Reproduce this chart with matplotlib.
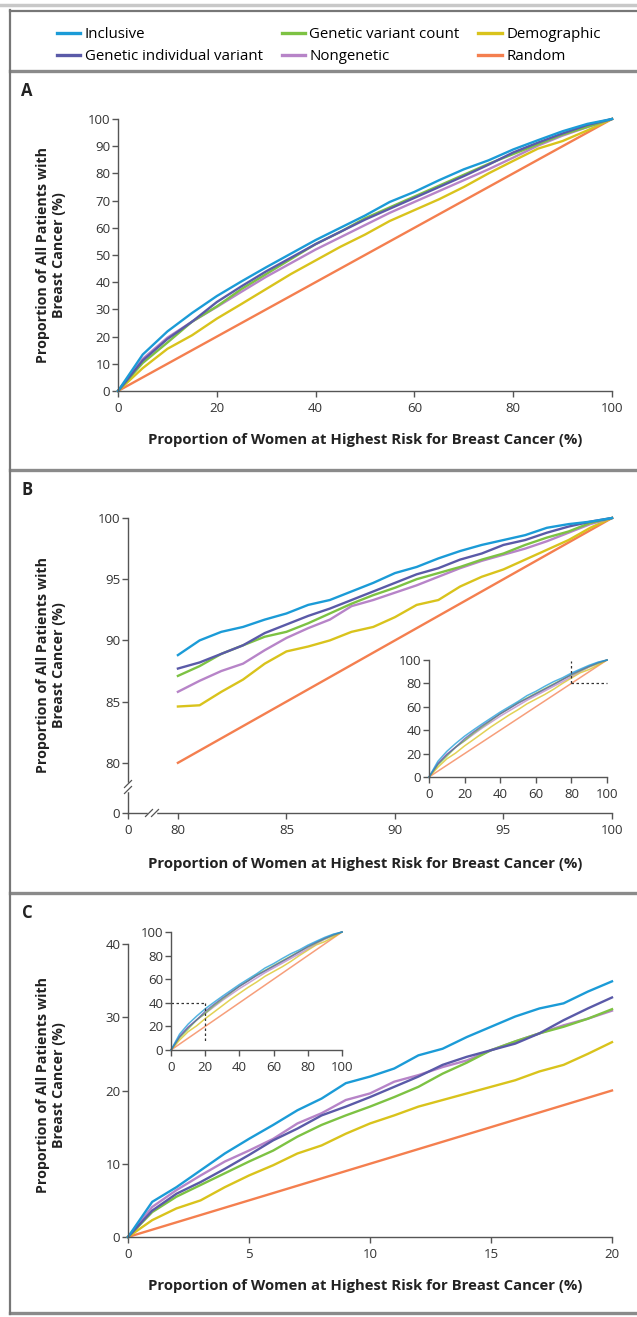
import matplotlib
matplotlib.use('Agg')
import matplotlib.pyplot as plt
from matplotlib.lines import Line2D

plt.rcParams['font.family'] = ['Open Sans', 'DejaVu Sans']

# models, in legend order (column-wise)
names = ['Inclusive', 'Genetic individual variant', 'Genetic variant count',
         'Nongenetic', 'Demographic', 'Random']
colors = ['#1b9bd7', '#5a5aa8', '#7dc243', '#b784c8', '#d9c31c', '#f47f4f']

# full range (panel A and insets)
full_x = [0, 5, 10, 15, 20, 25, 30, 35, 40, 45, 50, 55, 60, 65, 70, 75, 80, 85, 90, 95, 100]
full_inclusive = [0, 13.4, 21.9, 28.7, 34.9, 40.3, 45.5, 50.5, 55.5, 60.0, 64.5, 69.5, 73.2, 77.5, 81.5, 84.8, 88.8, 92.2, 95.5, 98.2, 100]
full_indiv = [0, 11.2, 19.1, 25.5, 32.7, 38.5, 44.0, 49.0, 54.0, 58.5, 63.0, 67.0, 71.0, 75.0, 79.0, 83.2, 87.7, 91.3, 94.7, 97.8, 100]
full_count = [0, 10.3, 17.8, 25.5, 31.1, 37.5, 43.0, 48.5, 54.0, 58.5, 63.5, 67.5, 71.5, 75.5, 79.5, 83.5, 87.1, 90.7, 94.3, 97.1, 100]
full_nongen = [0, 11.8, 19.6, 25.5, 30.9, 36.5, 42.0, 47.0, 52.0, 56.5, 61.0, 65.5, 69.5, 73.5, 77.5, 81.5, 85.8, 90.2, 93.9, 97.0, 100]
full_demo = [0, 8.4, 15.5, 20.5, 26.6, 32.0, 37.5, 43.0, 48.0, 53.0, 57.5, 62.5, 66.5, 70.5, 75.0, 80.0, 84.6, 89.1, 91.9, 95.8, 100]
full_random = [0, 5, 10, 15, 20, 25, 30, 35, 40, 45, 50, 55, 60, 65, 70, 75, 80, 85, 90, 95, 100]

# top 80-100 (panel B)
b_x = [80, 81, 82, 83, 84, 85, 86, 87, 88, 89, 90, 91, 92, 93, 94, 95, 96, 97, 98, 99, 100]
b_inclusive = [88.8, 90.0, 90.7, 91.1, 91.7, 92.2, 92.9, 93.3, 94.0, 94.7, 95.5, 96.0, 96.7, 97.3, 97.8, 98.2, 98.6, 99.2, 99.5, 99.7, 100]
b_indiv = [87.7, 88.2, 88.9, 89.6, 90.6, 91.3, 92.0, 92.6, 93.3, 94.0, 94.7, 95.4, 95.9, 96.6, 97.1, 97.8, 98.2, 98.8, 99.3, 99.7, 100]
b_count = [87.1, 87.9, 88.9, 89.6, 90.3, 90.7, 91.4, 92.2, 93.0, 93.7, 94.3, 95.0, 95.5, 96.0, 96.6, 97.1, 97.8, 98.4, 98.9, 99.6, 100]
b_nongen = [85.8, 86.7, 87.5, 88.1, 89.2, 90.2, 91.0, 91.7, 92.8, 93.3, 93.9, 94.5, 95.2, 95.9, 96.5, 97.0, 97.5, 98.1, 98.8, 99.5, 100]
b_demo = [84.6, 84.7, 85.8, 86.8, 88.1, 89.1, 89.5, 90.0, 90.7, 91.1, 91.9, 92.9, 93.3, 94.4, 95.2, 95.8, 96.6, 97.4, 98.2, 99.2, 100]
b_random = [80, 81, 82, 83, 84, 85, 86, 87, 88, 89, 90, 91, 92, 93, 94, 95, 96, 97, 98, 99, 100]

# first 0-20 (panel C)
c_x = [0, 1, 2, 3, 4, 5, 6, 7, 8, 9, 10, 11, 12, 13, 14, 15, 16, 17, 18, 19, 20]
c_inclusive = [0, 4.8, 6.8, 9.1, 11.4, 13.4, 15.3, 17.3, 18.9, 21.0, 21.9, 23.0, 24.8, 25.7, 27.3, 28.7, 30.1, 31.2, 31.9, 33.5, 34.9]
c_indiv = [0, 3.6, 5.9, 7.5, 9.3, 11.2, 13.2, 14.8, 16.6, 17.8, 19.1, 20.5, 21.9, 23.5, 24.6, 25.5, 26.4, 27.8, 29.6, 31.2, 32.7]
c_count = [0, 3.4, 5.5, 7.1, 8.7, 10.3, 11.8, 13.7, 15.3, 16.6, 17.8, 19.1, 20.5, 22.3, 23.8, 25.5, 26.7, 27.8, 28.7, 29.8, 31.1]
c_nongen = [0, 4.1, 6.4, 8.4, 10.3, 11.8, 13.4, 15.5, 16.9, 18.7, 19.6, 21.2, 22.1, 23.2, 24.1, 25.5, 26.7, 27.8, 28.9, 29.8, 30.9]
c_demo = [0, 2.3, 3.9, 5.0, 6.8, 8.4, 9.8, 11.4, 12.5, 14.1, 15.5, 16.6, 17.8, 18.7, 19.6, 20.5, 21.4, 22.6, 23.5, 25.0, 26.6]
c_random = [0, 1, 2, 3, 4, 5, 6, 7, 8, 9, 10, 11, 12, 13, 14, 15, 16, 17, 18, 19, 20]

full_series = [full_inclusive, full_indiv, full_count, full_nongen, full_demo, full_random]
b_series = [b_inclusive, b_indiv, b_count, b_nongen, b_demo, b_random]
c_series = [c_inclusive, c_indiv, c_count, c_nongen, c_demo, c_random]

xlabel = 'Proportion of Women at Highest Risk for Breast Cancer (%)'
ylabel = 'Proportion of All Patients with\nBreast Cancer (%)'

W, H = 637, 1317
fig = plt.figure(figsize=(W / 100, H / 100), dpi=100)
fig.patch.set_facecolor('white')

def fx(px):
    return px / W

def fy(py):
    return 1 - py / H

def axes_px(left, top, right, bottom):
    return fig.add_axes([fx(left), fy(bottom), (right - left) / W, (bottom - top) / H])

def style(ax, fs=9.5):
    for s in ['top', 'right']:
        ax.spines[s].set_visible(False)
    for s in ['left', 'bottom']:
        ax.spines[s].set_color('#555555')
        ax.spines[s].set_linewidth(1)
    ax.tick_params(axis='both', colors='#555555', labelcolor='#333333', labelsize=fs, length=4, width=1)
    ax.tick_params(axis='x', pad=4)
    ax.tick_params(axis='y', pad=1.5)

def draw_lines(ax, xs, series, lw=1.7, alpha=1.0):
    # random at the bottom, inclusive on top
    for i in [5, 4, 3, 2, 1, 0]:
        ax.plot(xs, series[i], color=colors[i], lw=lw, alpha=alpha, clip_on=False,
                solid_joinstyle='round')

def labels(letter, ly, ycenter, xly):
    fig.text(fx(27), fy(ly), letter, fontsize=12, fontweight='bold', ha='center', va='center', color='#222222')
    fig.text(fx(51), fy(ycenter), ylabel, rotation=90, fontsize=10.3, fontweight='bold',
             ha='center', va='center', multialignment='center', color='#222222', linespacing=1.1)
    fig.text(fx(365), fy(xly), xlabel, fontsize=10.7, fontweight='bold', ha='center', va='center', color='#222222')

# ---- frame lines ----
def hline(py, lw, color, x0=10, x1=W):
    fig.add_artist(Line2D([fx(x0), fx(x1)], [fy(py), fy(py)], transform=fig.transFigure,
                          color=color, lw=lw))

hline(5, 2.5, '#c8c8c8', x0=0)
hline(10.5, 1.6, '#777777')
hline(71, 2.4, '#8a8a8a')
hline(470, 2.4, '#8a8a8a')
hline(893, 2.4, '#8a8a8a')
hline(1313, 2.4, '#8a8a8a')
fig.add_artist(Line2D([fx(10), fx(10)], [fy(10), fy(1314)], transform=fig.transFigure,
                      color='#777777', lw=1.6))

# ---- legend ----
handles = [Line2D([0], [0], color=c, lw=2.4) for c in colors]
fig.legend(handles, names, loc='upper left', bbox_to_anchor=(fx(57), fy(27)), ncol=3,
           frameon=False, fontsize=10.8, handlelength=1.55, handletextpad=0.3,
           columnspacing=1.25, labelspacing=0.5, borderaxespad=0, borderpad=0)

# ---- panel A ----
axA = axes_px(118, 119, 612, 391)
draw_lines(axA, full_x, full_series)
axA.set_xlim(0, 100)
axA.set_ylim(0, 100)
axA.set_xticks([0, 20, 40, 60, 80, 100])
axA.set_yticks([0, 10, 20, 30, 40, 50, 60, 70, 80, 90, 100])
style(axA)
labels('A', 91, 255, 440)

# ---- panel B ----
axB = axes_px(128, 518, 612, 813)
draw_lines(axB, b_x, b_series)
bx0, by0 = 77.7, 75.9
axB.set_xlim(bx0, 100)
axB.set_ylim(by0, 100)
axB.set_xticks([bx0, 80, 85, 90, 95, 100])
axB.set_xticklabels(['0', '80', '85', '90', '95', '100'])
axB.set_yticks([by0, 80, 85, 90, 95, 100])
axB.set_yticklabels(['0', '80', '85', '90', '95', '100'])
style(axB)

# axis breaks
bw, bh = 484.0, 295.0
def axis_break(ax, xa, ya, vertical):
    gap = 3.0
    if vertical:
        ax.plot([xa, xa], [ya - gap / bh, ya + gap / bh], color='white', lw=2.5,
                transform=ax.transAxes, clip_on=False, zorder=5)
    else:
        ax.plot([xa - gap / bw, xa + gap / bw], [ya, ya], color='white', lw=2.5,
                transform=ax.transAxes, clip_on=False, zorder=5)
    for off in (-gap, gap):
        if vertical:
            cx, cy = xa, ya + off / bh
        else:
            cx, cy = xa + off / bw, ya
        ax.plot([cx - 3.5 / bw, cx + 3.5 / bw], [cy - 3.5 / bh, cy + 3.5 / bh], color='#555555',
                lw=0.9, transform=ax.transAxes, clip_on=False, zorder=6)

axis_break(axB, 0, (813 - 787) / bh, True)
axis_break(axB, (152 - 128) / bw, 0, False)
labels('B', 490, 665, 864)

# inset B
inB = axes_px(429, 660, 607, 777)
inB.set_facecolor('white')
draw_lines(inB, full_x, full_series, lw=1.1, alpha=0.75)
inB.plot([80, 80], [80, 99], color='#333333', lw=0.9, ls=(0, (2, 2)), clip_on=False)
inB.plot([80, 100], [80, 80], color='#333333', lw=0.9, ls=(0, (2, 2)), clip_on=False)
inB.set_xlim(0, 100)
inB.set_ylim(0, 100)
inB.set_xticks([0, 20, 40, 60, 80, 100])
inB.set_yticks([0, 20, 40, 60, 80, 100])
style(inB)

# ---- panel C ----
axC = axes_px(128, 944, 612, 1237)
draw_lines(axC, c_x, c_series)
axC.set_xlim(0, 20)
axC.set_ylim(0, 40)
axC.set_xticks([0, 5, 10, 15, 20])
axC.set_yticks([0, 10, 20, 30, 40])
style(axC)
labels('C', 913, 1085, 1286)

# inset C
inC = axes_px(171, 932, 342, 1050)
inC.set_facecolor('white')
draw_lines(inC, full_x, full_series, lw=1.1, alpha=0.75)
inC.plot([0, 20], [40, 40], color='#333333', lw=0.9, ls=(0, (2, 2)), clip_on=False)
inC.plot([20, 20], [40, 6], color='#333333', lw=0.9, ls=(0, (2, 2)), clip_on=False)
inC.set_xlim(0, 100)
inC.set_ylim(0, 100)
inC.set_xticks([0, 20, 40, 60, 80, 100])
inC.set_yticks([0, 20, 40, 60, 80, 100])
style(inC)

fig.savefig('out.png', dpi=100, facecolor='white')
